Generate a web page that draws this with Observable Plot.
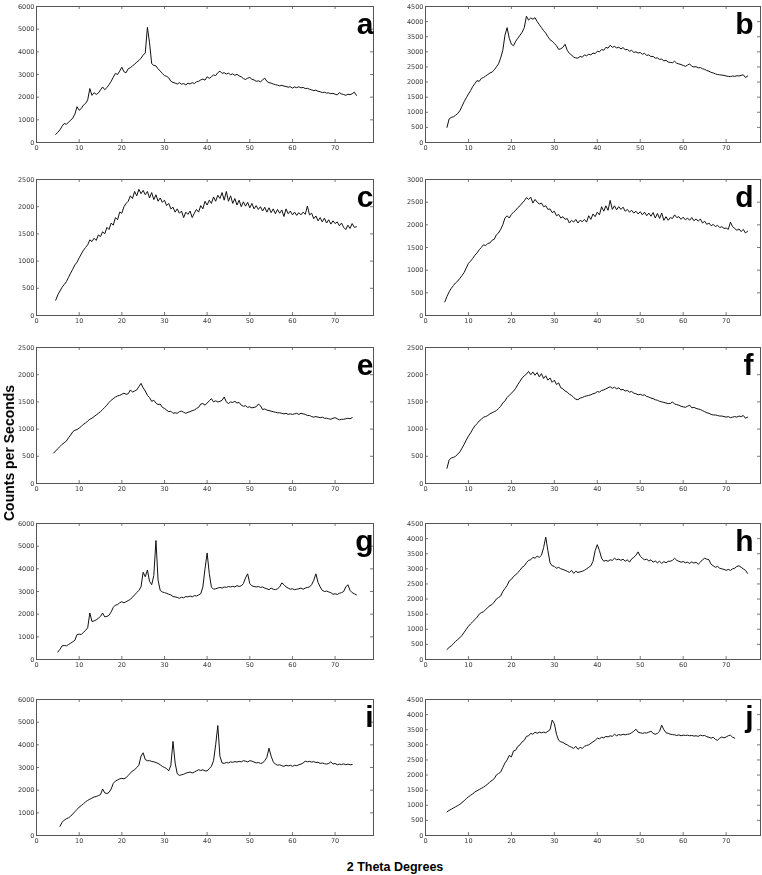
<!DOCTYPE html>
<html><head><meta charset="utf-8">
<script src="https://cdn.jsdelivr.net/npm/d3@7"></script>
<script src="https://cdn.jsdelivr.net/npm/@observablehq/plot@0.6"></script>
<style>
body{margin:0;background:#fff;}
#wrap{position:relative;width:762px;height:875px;overflow:hidden;background:#fff;}
.panel{position:absolute;will-change:transform;}
.lab{position:absolute;font-family:"Liberation Sans",Arial,sans-serif;font-weight:bold;color:#000;white-space:nowrap;}
</style></head><body><div id="wrap"></div>
<script>
// 2-theta sampling step (degrees)
const STEP = 0.5;
const xTicks = [0,10,20,30,40,50,60,70];

const startA = 4.5;
const countsA = [360,450,560,720,840,800,900,980,1080,1250,
1580,1420,1500,1650,1720,1880,2380,2080,2200,2120,
2180,2320,2450,2330,2420,2550,2700,2880,3050,3000,
3150,3320,3120,3080,3250,3300,3380,3450,3550,3620,
3720,3850,3950,5080,4400,3480,3400,3380,3250,3150,
3050,2950,2920,2850,2700,2650,2620,2580,2640,2570,
2600,2540,2620,2580,2640,2600,2680,2700,2760,2800,
2750,2900,2830,2900,2980,2950,3080,3150,3050,3080,
3020,3060,2990,3030,2960,3010,2940,2900,2820,2780,
2840,2870,2790,2760,2700,2720,2680,2760,2840,2700,
2640,2620,2580,2550,2530,2500,2520,2490,2470,2440,
2460,2400,2450,2420,2460,2410,2430,2380,2390,2350,
2320,2290,2310,2260,2240,2200,2220,2180,2190,2150,
2170,2130,2100,2200,2140,2120,2080,2130,2110,2150,
2220,2080];

const startB = 5;
const countsB = [500,780,830,850,900,960,1050,1200,1350,1480,
1600,1720,1850,1950,2050,2020,2120,2150,2200,2250,
2300,2330,2400,2500,2600,2800,3050,3550,3800,3450,
3250,3200,3350,3450,3550,3650,3800,4180,4050,4120,
4080,4130,4000,3900,3800,3700,3620,3500,3400,3350,
3280,3200,3080,3100,3150,3250,3050,2950,2900,2820,
2800,2790,2850,2820,2900,2870,2920,2900,2960,2940,
3020,3000,3080,3050,3150,3120,3220,3150,3180,3130,
3150,3100,3140,3070,3080,3020,3050,2980,3000,2960,
2980,2920,2950,2880,2900,2840,2850,2790,2800,2750,
2760,2700,2720,2660,2650,2640,2690,2620,2600,2580,
2550,2520,2560,2600,2520,2500,2510,2470,2480,2440,
2420,2380,2360,2320,2300,2270,2250,2240,2230,2220,
2200,2190,2180,2200,2190,2210,2200,2220,2240,2150,
2200];

const startC = 4.5;
const countsC = [280,380,450,520,570,620,700,780,850,930,
980,1060,1130,1200,1250,1300,1390,1360,1420,1380,
1480,1450,1540,1500,1620,1580,1700,1660,1800,1760,
1900,1880,2000,2060,2100,2200,2150,2280,2200,2320,
2240,2300,2220,2280,2160,2260,2130,2220,2100,2160,
2080,2120,2020,2060,1960,1990,1900,1960,1880,1920,
1800,1900,1860,1920,1800,1880,1950,1900,2020,1960,
2100,2030,2120,2060,2180,2100,2210,2150,2260,2120,
2280,2100,2200,2060,2150,2030,2120,2000,2090,2010,
2080,1980,2060,1960,2020,1950,2000,1920,1990,1900,
1980,1890,1960,1870,1950,1880,1940,1820,1960,1870,
1920,1850,1900,1840,1890,1850,1900,1860,2010,1850,
1880,1780,1830,1740,1800,1720,1790,1700,1760,1680,
1740,1690,1720,1650,1700,1620,1580,1660,1600,1690,
1620,1630];

const startD = 4.5;
const countsD = [300,420,520,600,660,720,760,820,880,950,
1050,1150,1200,1260,1330,1380,1450,1500,1560,1540,
1590,1600,1660,1680,1780,1820,1900,2000,2150,2200,
2150,2230,2280,2320,2380,2420,2480,2530,2600,2560,
2610,2480,2560,2500,2460,2480,2400,2420,2340,2350,
2270,2300,2200,2230,2150,2180,2120,2140,2040,2100,
2060,2120,2040,2100,2070,2120,2060,2200,2120,2240,
2180,2280,2220,2400,2300,2420,2320,2540,2340,2420,
2330,2400,2340,2390,2300,2340,2280,2320,2260,2300,
2240,2290,2220,2280,2200,2260,2190,2270,2150,2250,
2140,2260,2100,2180,2100,2160,2140,2220,2160,2180,
2120,2170,2110,2150,2100,2160,2090,2130,2080,2130,
2040,2080,2010,2040,1980,2010,1960,1990,1940,1960,
1920,1930,1900,2060,1960,1920,1880,1910,1850,1900,
1820,1860];

const startE = 4;
const countsE = [560,600,640,680,720,750,780,840,890,950,
980,990,1020,1050,1090,1110,1150,1180,1200,1230,
1260,1290,1320,1360,1400,1440,1490,1530,1560,1590,
1610,1620,1640,1660,1640,1650,1720,1680,1700,1720,
1780,1840,1760,1700,1620,1580,1510,1530,1480,1450,
1460,1400,1380,1350,1320,1330,1290,1300,1290,1320,
1330,1310,1290,1310,1320,1340,1350,1380,1400,1460,
1470,1440,1480,1520,1560,1500,1520,1500,1510,1530,
1590,1500,1470,1500,1490,1510,1480,1490,1440,1420,
1430,1400,1410,1390,1400,1410,1460,1430,1360,1370,
1350,1340,1330,1320,1310,1300,1300,1290,1280,1290,
1270,1280,1270,1280,1290,1270,1290,1280,1270,1250,
1250,1230,1220,1230,1220,1210,1220,1200,1200,1190,
1180,1200,1210,1190,1170,1180,1180,1190,1200,1190,
1210];

const startF = 5;
const countsF = [280,430,470,480,500,540,580,650,720,800,
870,930,1000,1060,1100,1150,1180,1220,1230,1250,
1280,1300,1320,1340,1380,1420,1480,1520,1580,1620,
1660,1700,1750,1820,1880,1940,1980,2010,2060,2000,
2050,1990,2040,1960,2020,1930,1980,1900,1940,1860,
1900,1820,1850,1760,1740,1700,1680,1640,1620,1580,
1550,1540,1570,1580,1600,1610,1620,1630,1650,1660,
1690,1680,1710,1720,1740,1760,1780,1750,1770,1740,
1760,1720,1730,1700,1710,1680,1690,1660,1650,1630,
1640,1620,1630,1600,1590,1570,1560,1540,1530,1510,
1500,1490,1480,1470,1470,1500,1460,1450,1440,1420,
1410,1400,1420,1440,1390,1400,1380,1370,1360,1340,
1320,1300,1290,1270,1260,1260,1250,1240,1240,1230,
1220,1230,1210,1220,1230,1220,1240,1230,1250,1200,
1220];

const startG = 5;
const countsG = [330,450,600,620,600,660,720,780,850,1100,
1120,1100,1200,1280,1400,2050,1680,1700,1750,1820,
1900,2050,1880,1900,1950,2100,2300,2400,2420,2500,
2550,2500,2550,2600,2650,2750,2850,2950,3050,3200,
3850,3650,3950,3450,3300,3700,5250,3500,3050,2980,
2950,2920,2880,2850,2780,2760,2740,2700,2750,2720,
2780,2760,2800,2760,2820,2800,2850,2900,3200,4000,
4700,3800,3200,3100,3120,3150,3180,3150,3200,3180,
3220,3200,3230,3200,3260,3220,3250,3350,3600,3780,
3350,3250,3220,3200,3220,3180,3200,3150,3120,3080,
3150,3100,3080,3120,3200,3380,3300,3200,3150,3100,
3120,3080,3100,3120,3150,3100,3150,3180,3200,3300,
3500,3780,3400,3200,3050,3000,3020,2980,2950,2880,
2900,2870,2920,2950,3000,3200,3300,3050,2950,2900,
2850];

const startH = 5;
const countsH = [330,400,450,520,600,660,720,800,900,1000,
1100,1180,1250,1320,1400,1500,1550,1580,1650,1720,
1780,1820,1900,2000,2050,2100,2250,2350,2450,2600,
2650,2750,2800,2880,2950,3050,3100,3200,3280,3300,
3380,3350,3420,3380,3450,3700,4050,3600,3200,3100,
3080,3020,3050,3000,2980,2950,2920,2880,2950,2850,
2920,2880,2900,2920,2950,3000,3050,3100,3250,3600,
3800,3600,3350,3250,3280,3250,3300,3280,3350,3300,
3320,3280,3320,3250,3300,3220,3330,3380,3450,3560,
3420,3350,3300,3320,3260,3300,3220,3260,3200,3250,
3180,3240,3200,3250,3250,3280,3350,3280,3250,3220,
3240,3200,3220,3180,3230,3190,3220,3150,3220,3300,
3350,3320,3300,3150,3100,3050,3080,3020,3000,2980,
2950,2980,2950,3000,3020,3080,3100,3050,3000,2950,
2850];

const startI = 5.5;
const countsI = [400,580,680,740,780,850,950,1050,1150,1250,
1320,1400,1480,1550,1600,1650,1700,1720,1760,1800,
2050,1880,1850,1900,2050,2300,2400,2450,2500,2520,
2500,2550,2650,2750,2850,2900,3000,3100,3500,3650,
3350,3300,3300,3270,3250,3220,3180,3120,3050,3000,
2950,2850,3100,4150,3200,2720,2650,2680,2700,2750,
2780,2800,2760,2800,2850,2900,2870,2900,2850,2850,
2950,3050,3300,4000,4850,3500,3200,3180,3220,3200,
3250,3230,3260,3240,3270,3250,3300,3280,3250,3300,
3280,3240,3200,3220,3180,3200,3300,3450,3850,3500,
3250,3150,3100,3120,3080,3050,3100,3070,3100,3050,
3100,3080,3120,3150,3200,3280,3250,3270,3240,3260,
3220,3230,3180,3200,3170,3150,3180,3250,3150,3180,
3120,3150,3130,3160,3120,3150,3120,3130];

const startJ = 5;
const countsJ = [780,830,870,910,950,990,1030,1090,1150,1220,
1280,1330,1380,1440,1480,1520,1560,1600,1650,1700,
1780,1820,1880,2000,2050,2100,2250,2400,2500,2650,
2600,2800,2820,2950,3000,3100,3150,3280,3300,3380,
3350,3420,3380,3420,3400,3420,3400,3450,3500,3820,
3700,3350,3150,3100,3080,3030,3000,2950,2920,2880,
2950,2850,2920,2880,2950,2980,3000,3050,3100,3150,
3220,3200,3250,3230,3280,3260,3300,3280,3350,3300,
3340,3320,3350,3330,3350,3360,3400,3450,3520,3420,
3400,3380,3400,3390,3420,3450,3380,3350,3380,3450,
3650,3500,3400,3380,3350,3340,3330,3310,3330,3300,
3320,3310,3320,3300,3310,3290,3300,3280,3320,3300,
3310,3270,3250,3220,3250,3180,3150,3220,3260,3230,
3260,3300,3320,3250,3220];

const panelLetters = ["a","b","c","d","e","f","g","h","i","j"];
const panelStarts = [startA,startB,startC,startD,startE,startF,startG,startH,startI,startJ];
const panelCounts = [countsA,countsB,countsC,countsD,countsE,countsF,countsG,countsH,countsI,countsJ];
const yMaxes = [6000,4500,2500,3000,2500,2500,6000,4500,6000,4500];
const yTickSteps = [1000,500,500,500,500,500,1000,500,1000,500];

// layout
const rowTops = [6,179,347,523,699];
const frameH = 136;
const colLeft = [36,425];
const colWidth = [337,335];
const colXMax = [79,78];
const mL = 34, mR = 1, mT = 2, mB = 14;

const wrap = document.getElementById("wrap");

panelLetters.forEach((letter, i) => {
  const col = i % 2, row = Math.floor(i / 2);
  const start = panelStarts[i];
  const data = panelCounts[i].map((c, k) => ({x: start + k * STEP, y: c}));
  const yTicks = d3.range(0, yMaxes[i] + 1, yTickSteps[i]);
  const innerW = colWidth[col], innerH = frameH;
  const tickLen = 3;
  const tickColor = "#555";
  const plot = Plot.plot({
    width: innerW + mL + mR,
    height: innerH + mT + mB,
    marginLeft: mL, marginRight: mR, marginTop: mT, marginBottom: mB,
    x: {domain: [0, colXMax[col]], label: null},
    y: {domain: [0, yMaxes[i]], label: null},
    style: {fontFamily: "'DejaVu Sans', sans-serif", fontSize: "6.5px", background: "white", overflow: "visible"},
    marks: [
      Plot.axisX(xTicks, {tickSize: 0, tickPadding: 2.5, tickFormat: d => String(d), fill: "#3a3a3a", label: null}),
      Plot.axisY(yTicks, {tickSize: 0, tickPadding: 2, tickFormat: d => String(d), fill: "#3a3a3a", label: null}),
      Plot.tickX(xTicks, {x: d => d, insetTop: innerH - tickLen, stroke: tickColor, strokeWidth: 0.8}),
      Plot.tickX(xTicks, {x: d => d, insetBottom: innerH - tickLen, stroke: tickColor, strokeWidth: 0.8}),
      Plot.tickY(yTicks, {y: d => d, insetRight: innerW - tickLen, stroke: tickColor, strokeWidth: 0.8}),
      Plot.tickY(yTicks, {y: d => d, insetLeft: innerW - tickLen, stroke: tickColor, strokeWidth: 0.8}),
      Plot.line(data, {x: "x", y: "y", stroke: "#111", strokeWidth: 1}),
      Plot.frame({stroke: "#555", strokeWidth: 1}),
      Plot.text([letter], {frameAnchor: "top-right", text: d => d, textAnchor: "end", lineAnchor: "bottom",
        dy: 27, dx: col === 0 ? 0 : -7, fontSize: 30, fontWeight: "bold",
        fontFamily: "'Liberation Sans', Arial, sans-serif", fill: "#000"})
    ]
  });
  plot.classList.add("panel");
  plot.style.left = (colLeft[col] - mL) + "px";
  plot.style.top = (rowTops[row] - mT) + "px";
  wrap.appendChild(plot);
});

const yLab = document.createElement("div");
yLab.className = "lab";
yLab.textContent = "Counts per Seconds";
yLab.style.cssText += "left:8.5px;top:453px;font-size:14px;transform:translate(-50%,-50%) rotate(-90deg);";
wrap.appendChild(yLab);

const xLab = document.createElement("div");
xLab.className = "lab";
xLab.textContent = "2 Theta Degrees";
xLab.style.cssText += "left:395px;top:867px;font-size:12.5px;transform:translate(-50%,-50%);";
wrap.appendChild(xLab);
</script>
</body></html>
